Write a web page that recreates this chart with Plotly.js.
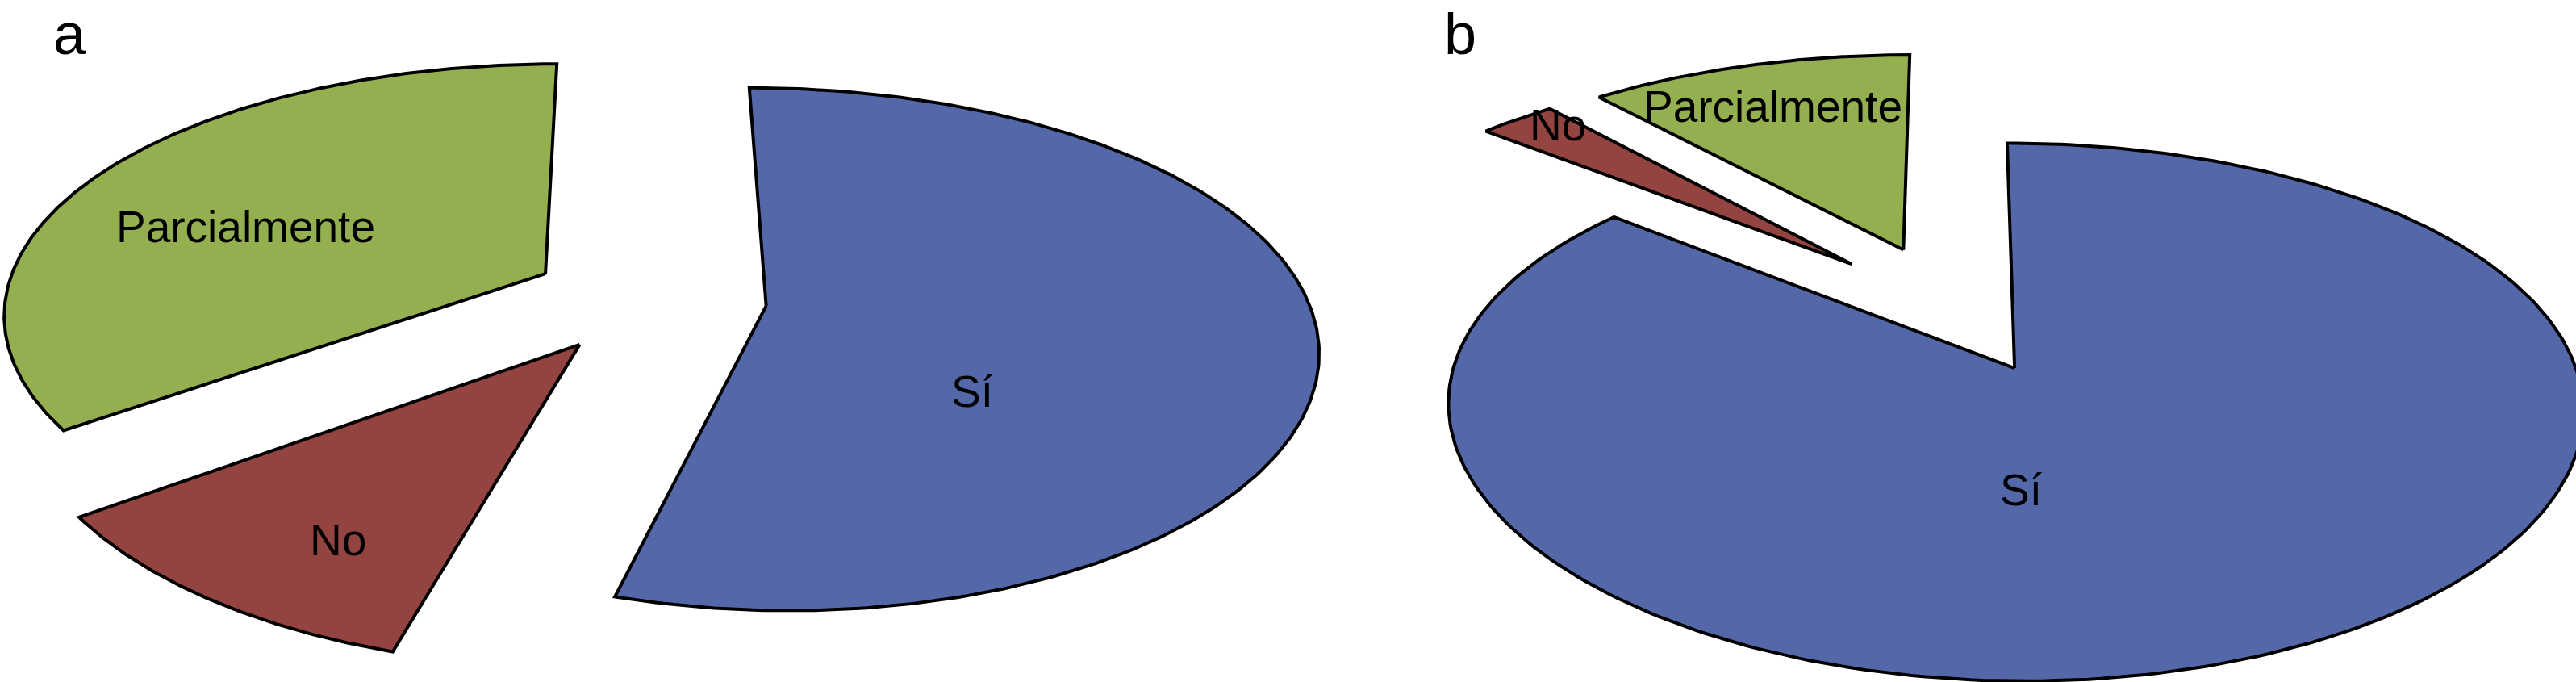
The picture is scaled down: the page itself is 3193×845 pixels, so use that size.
<!DOCTYPE html>
<html>
<head>
<meta charset="utf-8">
<script src="https://cdn.plot.ly/plotly-3.0.1.min.js"></script>
<style>
  html, body { margin: 0; padding: 0; background: #ffffff; }
  #chart { width: 3193px; height: 845px; }
</style>
</head>
<body>
<div id="chart"></div>
<script>
// ---------------- data ----------------
const categories = ['Sí', 'No', 'Parcialmente'];
const valuesA = [54.4, 10.7, 34.9];   // panel a (%)
const valuesB = [86.0, 2.7, 11.3];    // panel b (%)
const panelLabels = ['a', 'b'];

// ---------------- styles / layout config ----------------
const W = 3193, H = 845;
const sliceColors = ['#5468A9', '#934340', '#93AF4F'];
const outline = { color: '#000000', width: 4 };
const labelFont = { family: 'Liberation Sans, Arial, sans-serif', size: 55, color: '#000000' };
const panelFont = { family: 'Liberation Sans, Arial, sans-serif', size: 72, color: '#000000' };
const tiltX = 0.148;     // perspective strength (horizontal)
const tiltY = 0.1658;    // perspective strength (vertical)
const startAngle = 90;   // first slice starts at 12 o'clock, clockwise

const panels = [
  { values: valuesA, label: panelLabels[0], origin: [787.5, 382.8], radius: 675.1, squash: 0.4685,
    pull: 0.2176, center: [0.0251, 0.0419], domain: [0, 1700 / W],
    labelPlace: [[-34.3, 0.473], [4.6, 0.754], [8.5, 0.615]], labelX: 86 },
  { values: valuesB, label: panelLabels[1], origin: [2425, 482.6], radius: 704, squash: 0.473,
    pull: 0.2649, center: [-0.0091, 0.3202], domain: [1700 / W, 1],
    labelPlace: [[-24.6, 0.432], [-2.5, 0.917], [1.5, 0.762]], labelX: 1810 }
];

// perspective projection of a point on the tilted disc plane
function project(u, v, squash) {
  return [u / (1 + tiltX * v), squash * v / (1 + tiltY * v)];
}

const traces = [];
const annotations = [];
const layout = {
  width: W, height: H,
  margin: { l: 0, r: 0, t: 0, b: 0, pad: 0 },
  paper_bgcolor: '#ffffff', plot_bgcolor: '#ffffff',
  showlegend: false,
  hovermode: false
};

panels.forEach((p, pi) => {
  const xa = pi === 0 ? 'x' : 'x2';
  const ya = pi === 0 ? 'y' : 'y2';
  const xKey = pi === 0 ? 'xaxis' : 'xaxis2';
  const yKey = pi === 0 ? 'yaxis' : 'yaxis2';
  const R = p.radius;
  layout[xKey] = {
    domain: p.domain, anchor: ya, visible: false, fixedrange: true,
    range: [(W * p.domain[0] - p.origin[0]) / R, (W * p.domain[1] - p.origin[0]) / R]
  };
  layout[yKey] = {
    domain: [0, 1], anchor: xa, visible: false, fixedrange: true,
    range: [(p.origin[1] - H) / R, p.origin[1] / R]
  };

  const total = p.values.reduce((a, b) => a + b, 0);
  let cum = 0;
  p.values.forEach((val, i) => {
    const a0 = startAngle - cum / total * 360;
    const a1 = a0 - val / total * 360;
    cum += val;
    const mid = (a0 + a1) / 2 * Math.PI / 180;
    const vx = p.center[0] + p.pull * Math.cos(mid);
    const vy = p.center[1] + p.pull * Math.sin(mid);
    const xs = [], ys = [];
    let q = project(vx, vy, p.squash);
    xs.push(q[0]); ys.push(q[1]);
    const steps = 300;
    for (let s = 0; s <= steps; s++) {
      const t = (a0 + (a1 - a0) * s / steps) * Math.PI / 180;
      q = project(vx + Math.cos(t), vy + Math.sin(t), p.squash);
      xs.push(q[0]); ys.push(q[1]);
    }
    q = project(vx, vy, p.squash);
    xs.push(q[0]); ys.push(q[1]);
    traces.push({
      type: 'scatter', mode: 'lines', x: xs, y: ys, xaxis: xa, yaxis: ya,
      fill: 'toself', fillcolor: sliceColors[i],
      line: { color: outline.color, width: outline.width, shape: 'linear' },
      hoverinfo: 'skip', name: categories[i]
    });
    const la = mid + p.labelPlace[i][0] * Math.PI / 180;
    const lr = p.labelPlace[i][1];
    const lq = project(vx + lr * Math.cos(la), vy + lr * Math.sin(la), p.squash);
    annotations.push({
      xref: xa, yref: ya, x: lq[0], y: lq[1], text: categories[i],
      showarrow: false, xanchor: 'center', yanchor: 'middle', font: labelFont
    });
  });

  annotations.push({
    xref: 'paper', yref: 'paper', x: p.labelX / W, y: 1,
    text: p.label, showarrow: false, xanchor: 'center', yanchor: 'top', font: panelFont
  });
});

layout.annotations = annotations;
Plotly.newPlot('chart', traces, layout, { staticPlot: true, displayModeBar: false });
</script>
</body>
</html>
